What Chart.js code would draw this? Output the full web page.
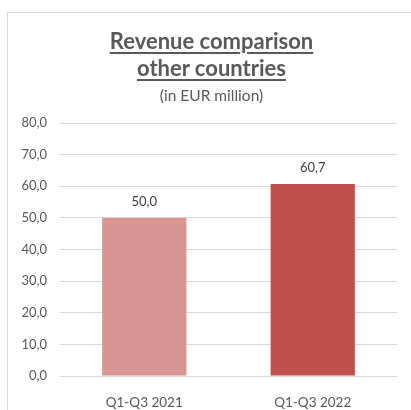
<!DOCTYPE html>
<html>
<head>
<meta charset="utf-8">
<script src="https://cdn.jsdelivr.net/npm/chart.js@4"></script>
<style>
    html, body { margin: 0; padding: 0; background: #fff; overflow: hidden; }
    body { width: 411px; height: 410px; position: relative; font-family: Lato, sans-serif; }
    .frame { position: absolute; left: 7px; top: 12px; width: 440px; height: 440px; border: 1px solid #d9d9d9; }
    .chart-title { position: absolute; left: 0; width: 423px; top: 27px; text-align: center; color: #595959; }
    .chart-title .main { font-size: 22px; font-weight: bold; line-height: 27px; }
    .chart-title .main span { text-decoration: underline; text-underline-offset: 3px; }
    .chart-title .sub { font-size: 15.5px; line-height: 16px; margin-top: 6px; }
    #revenue-chart { position: absolute; left: 0; top: 0; }
</style>
</head>
<body>
<div class="frame"></div>
<canvas id="revenue-chart" width="411" height="410"></canvas>
<div class="chart-title">
    <div class="main"><span>Revenue comparison</span></div>
    <div class="main"><span>other countries</span></div>
    <div class="sub">(in EUR million)</div>
</div>
<script>
const periods = ['Q1-Q3 2021', 'Q1-Q3 2022'];
const revenue = [50.0, 60.7];
const barColors = ['#d99594', '#c0504d'];
const yTicks = [0, 10, 20, 30, 40, 50, 60, 70, 80];

const formatDe = v => v.toFixed(1).replace('.', ',');

// Wert über jedem Balken
const valueLabels = {
    id: 'valueLabels',
    afterDatasetsDraw(chart) {
        const ctx = chart.ctx;
        const meta = chart.getDatasetMeta(0);
        ctx.save();
        ctx.font = '13px Lato, sans-serif';
        ctx.fillStyle = '#404040';
        ctx.textAlign = 'center';
        ctx.textBaseline = 'middle';
        meta.data.forEach((bar, i) => {
            ctx.fillText(formatDe(revenue[i]), bar.x, bar.y - 16);
        });
        ctx.restore();
    }
};

new Chart(document.getElementById('revenue-chart').getContext('2d'), {
    type: 'bar',
    data: {
        labels: periods,
        datasets: [{
            data: revenue,
            backgroundColor: barColors,
            categoryPercentage: 1,
            barPercentage: 0.5
        }]
    },
    options: {
        responsive: false,
        animation: false,
        layout: { padding: { top: 123, right: 14, bottom: 0, left: 0 } },
        plugins: { legend: { display: false }, tooltip: { enabled: false } },
        scales: {
            x: {
                grid: { display: false },
                border: { display: false },
                ticks: { color: '#595959', font: { family: 'Lato', size: 13.5 }, padding: 11 },
                afterFit: scale => { scale.height = 34; }
            },
            y: {
                min: 0,
                max: 80,
                afterBuildTicks: scale => { scale.ticks = yTicks.map(v => ({ value: v })); },
                grid: { color: '#d9d9d9', drawTicks: false },
                border: { display: false },
                ticks: { color: '#595959', font: { family: 'Lato', size: 13 }, padding: 13, callback: v => formatDe(v) },
                afterFit: scale => { scale.width = 60; }
            }
        }
    },
    plugins: [valueLabels]
});
</script>
</body>
</html>
